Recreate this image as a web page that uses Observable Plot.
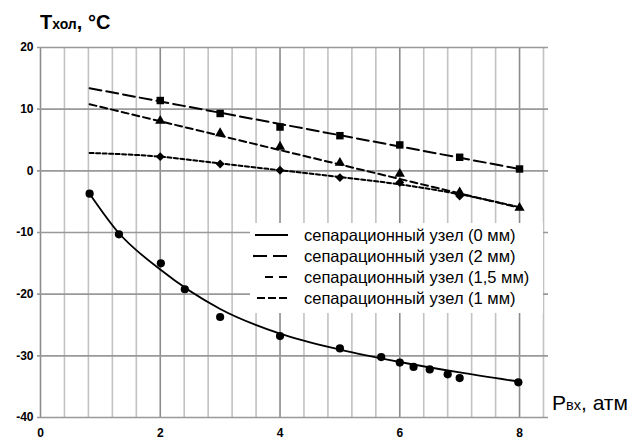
<!DOCTYPE html>
<html>
<head>
<meta charset="utf-8">
<script src="https://cdn.jsdelivr.net/npm/d3@7"></script>
<script src="https://cdn.jsdelivr.net/npm/@observablehq/plot@0.6"></script>
<style>
  html, body { margin: 0; padding: 0; background: #fff; }
  #wrap { position: relative; width: 634px; height: 441px; font-family: "Liberation Sans", Arial, sans-serif; color: #000; overflow: hidden; }
  #wrap svg { display: block; }
  .title { position: absolute; left: 40px; top: 12px; font-weight: bold; font-size: 20px; white-space: nowrap; line-height: 20px; }
  .title .sub { font-size: 14px; }
  .xlab { position: absolute; left: 552px; top: 392px; font-size: 21px; white-space: nowrap; line-height: 21px; }
  .xlab .sub { font-size: 14.5px; }
  .legend { position: absolute; left: 250px; top: 223px; width: 293px; height: 90px; background: #fff; }
  .row { position: absolute; left: 0; height: 18px; display: flex; align-items: center; font-size: 16.5px; white-space: nowrap; }
  .row svg { margin-right: 10px; }
</style>
</head>
<body>
<div id="wrap"></div>
<script>
// ---- data ----
// separation unit 0 mm (points)
const p0 = [0.82, 1.31, 2.01, 2.41, 3.0, 4.0, 5.0, 5.69, 6.0, 6.23, 6.5, 6.8, 7.0, 7.98];
const t0 = [-3.7, -10.3, -15.0, -19.2, -23.7, -26.8, -28.8, -30.2, -31.1, -31.8, -32.2, -33.0, -33.6, -34.3];
// 0 mm trend curve
const p0Trend = [0.82, 1.3, 2.0, 3.0, 4.0, 5.0, 6.0, 7.0, 8.0];
const t0Trend = [-3.7, -10.0, -16.0, -22.4, -26.4, -29.0, -31.0, -32.7, -34.2];
// 2 mm
const p2 = [2, 3, 4, 5, 6, 7, 8];
const t2 = [11.4, 9.3, 7.1, 5.7, 4.2, 2.2, 0.3];
const p2Trend = [0.82, 8];
const t2Trend = [13.4, 0.3];
// 1.5 mm
const p15 = [2, 3, 4, 5, 6, 7, 8];
const t15 = [8.1, 6.1, 3.9, 1.3, -0.5, -3.5, -6.0];
const p15Trend = [0.82, 8];
const t15Trend = [10.8, -6.0];
// 1 mm
const p1 = [2, 3, 4, 5, 6, 7];
const t1 = [2.3, 1.1, 0.1, -1.1, -1.9, -4.1];
const p1Trend = [0.82, 2, 3, 4, 5, 6, 7, 8];
const t1Trend = [2.9, 2.3, 1.2, 0.1, -1.0, -2.2, -3.8, -5.9];

const legendLabels = ["сепарационный узел (0 мм)", "сепарационный узел (2 мм)", "сепарационный узел (1,5 мм)", "сепарационный узел (1 мм)"];
const xTickLabels = [0, 2, 4, 6, 8];
const yTickLabels = [-40, -30, -20, -10, 0, 10, 20];
const xGridMinor = [0.4, 0.8, 1.2, 1.6, 2.4, 2.8, 3.2, 3.6, 4.4, 4.8, 5.2, 5.6, 6.4, 6.8, 7.2, 7.6, 8.4];
const xGridMajor = [0, 2, 4, 6, 8];

const zip = (xs, ys) => xs.map((x, i) => ({x, y: ys[i]}));

const chart = Plot.plot({
  width: 634,
  height: 441,
  marginLeft: 40,
  marginRight: 91,
  marginTop: 47,
  marginBottom: 24,
  x: {domain: [0, 8.4]},
  y: {domain: [-40, 20]},
  style: {fontFamily: "Liberation Sans, Arial, sans-serif", background: "#fff", color: "#000"},
  marks: [
    Plot.ruleX(xGridMinor, {stroke: "#c2c2c2", strokeWidth: 1.6}),
    Plot.ruleX(xGridMajor, {stroke: "#8c8c8c", strokeWidth: 1.6}),
    Plot.ruleY(yTickLabels, {stroke: "#999", strokeWidth: 1.6, insetLeft: -3, insetRight: -5}),
    Plot.axisY(yTickLabels, {tickSize: 0, tickPadding: 7, fontWeight: "bold", fontSize: 12, tickFormat: d => String(d), label: null}),
    Plot.axisX(xTickLabels, {tickSize: 0, tickPadding: 11, fontWeight: "bold", fontSize: 12, tickFormat: d => String(d), label: null}),
    Plot.line(zip(p0Trend, t0Trend), {x: "x", y: "y", curve: "monotone-x", stroke: "#000", strokeWidth: 1.8}),
    Plot.line(zip(p2Trend, t2Trend), {x: "x", y: "y", stroke: "#000", strokeWidth: 2, strokeDasharray: "12,5"}),
    Plot.line(zip(p15Trend, t15Trend), {x: "x", y: "y", stroke: "#000", strokeWidth: 2, strokeDasharray: "7,4"}),
    Plot.line(zip(p1Trend, t1Trend), {x: "x", y: "y", curve: "monotone-x", stroke: "#000", strokeWidth: 2, strokeDasharray: "4,2.5"}),
    Plot.dot(zip(p0, t0), {x: "x", y: "y", r: 4.1, fill: "#000", symbol: "circle"}),
    Plot.dot(zip(p2, t2), {x: "x", y: "y", r: 4.2, fill: "#000", symbol: "square"}),
    Plot.dot(zip(p15, t15), {x: "x", y: "y", r: 3.8, fill: "#000", symbol: "triangle"}),
    Plot.dot(zip(p1, t1), {x: "x", y: "y", r: 4.0, fill: "#000", symbol: "diamond2"})
  ]
});

const wrap = document.getElementById("wrap");
wrap.appendChild(chart);

// title and axis label
const title = document.createElement("div");
title.className = "title";
title.innerHTML = 'T<span class="sub">хол</span>, °C';
wrap.appendChild(title);

const xlab = document.createElement("div");
xlab.className = "xlab";
xlab.innerHTML = 'P<span class="sub">вх</span>, атм';
wrap.appendChild(xlab);

// legend
const dashes = [null, "14,6", "8,6", "8,3"];
const sampleX = [[5, 38], [3, 38], [15, 37], [7, 37]];
const rowTops = [3, 24, 45, 66];
const legend = document.createElement("div");
legend.className = "legend";
legendLabels.forEach((lab, i) => {
  const row = document.createElement("div");
  row.className = "row";
  row.style.top = rowTops[i] + "px";
  const svg = d3.create("svg").attr("width", 42).attr("height", 18);
  svg.append("line")
    .attr("x1", sampleX[i][0]).attr("x2", sampleX[i][1])
    .attr("y1", 9).attr("y2", 9)
    .attr("stroke", "#000").attr("stroke-width", 2.2)
    .attr("stroke-dasharray", dashes[i]);
  row.appendChild(svg.node());
  const span = document.createElement("span");
  span.style.marginLeft = "2px";
  span.textContent = lab;
  row.appendChild(span);
  legend.appendChild(row);
});
wrap.appendChild(legend);
</script>
</body>
</html>
